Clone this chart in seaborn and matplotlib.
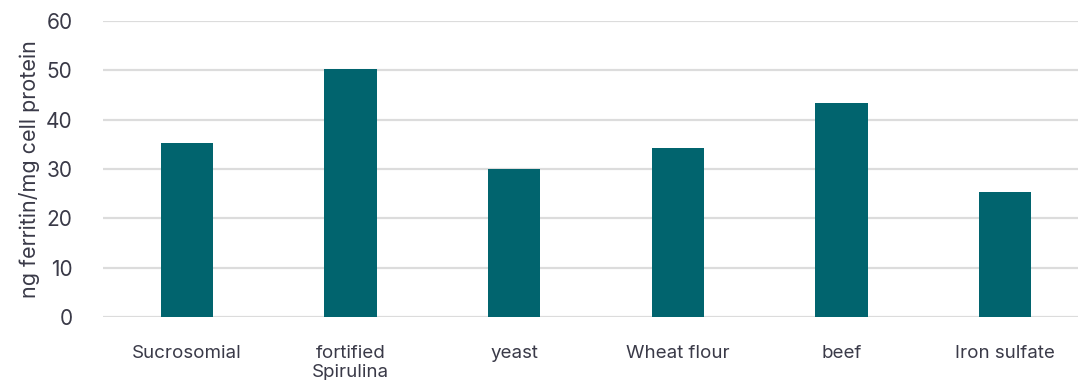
import matplotlib
matplotlib.use("Agg")
import matplotlib.pyplot as plt
import seaborn as sns
import pandas as pd

categories = ["Sucrosomial", "fortified\nSpirulina", "yeast", "Wheat flour", "beef", "Iron sulfate"]
values = [35.2, 50.2, 30.1, 34.2, 43.3, 25.3]
yticks = [0, 10, 20, 30, 40, 50, 60]

df = pd.DataFrame({"cat": categories, "val": values})

sns.set_theme(style="white")
plt.rcParams["font.family"] = ["Inter", "DejaVu Sans"]

W, H = 1078, 380
fig = plt.figure(figsize=(W / 100, H / 100), dpi=100)
ax = fig.add_axes([103 / W, (H - 317) / H, (W - 103) / W, (317 - 21) / H])

sns.barplot(data=df, x="cat", y="val", color="#01646E", saturation=1, width=0.32,
            linewidth=0, ax=ax, zorder=3)

ax.set_ylim(0, 60)
ax.set_xlim(-0.513, 5.446)
ax.set_yticks(yticks)
ax.grid(axis="y", color="#dcdcdc", linewidth=1.6, zorder=0)
ax.set_axisbelow(True)
for s in ax.spines.values():
    s.set_visible(False)
ax.tick_params(axis="both", length=0)
ax.tick_params(axis="y", labelsize=15, colors="#3a3a48", pad=22)
ax.tick_params(axis="x", labelsize=13.5, colors="#3a3a48", pad=20)
ax.set_xlabel("")
ax.set_ylabel("ng ferritin/mg cell protein", fontsize=15.5, color="#3a3a48", labelpad=4)

fig.savefig("out.png", dpi=100)
